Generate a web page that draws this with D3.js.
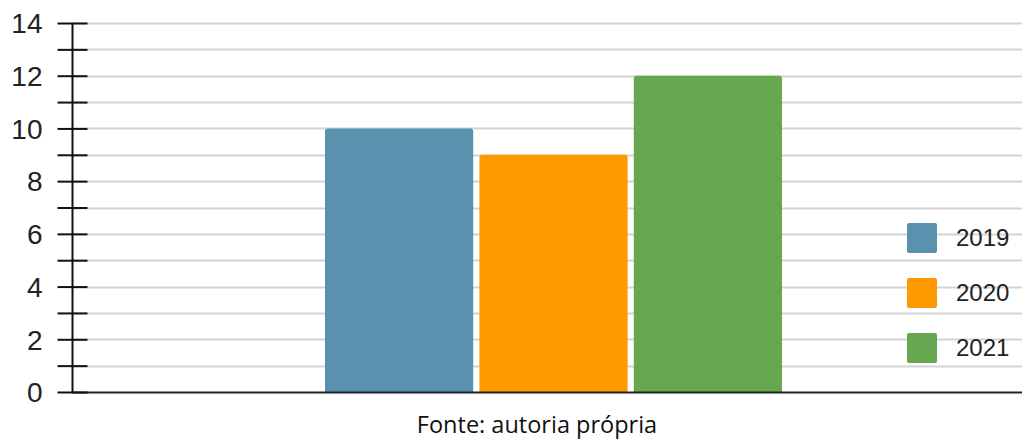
<!DOCTYPE html>
<html><head><meta charset="utf-8">
<script src="https://cdn.jsdelivr.net/npm/d3@7"></script>
<style>body{margin:0;background:#fff}</style>
</head><body>
<svg id="c" width="1025" height="439"></svg>
<script>
const series = ["2019", "2020", "2021"];
const values = [10, 9, 12];
const colors = ["#5a91ae", "#ff9900", "#67a74f"];
const yTicks = [0, 2, 4, 6, 8, 10, 12, 14];
const caption = "Fonte: autoria própria";

const svg = d3.select("#c");
const y = d3.scaleLinear().domain([0, 14]).range([392, 23]);
const x = d3.scaleBand().domain(series).range([325, 782]).paddingInner(0.04).paddingOuter(0);
const axisX = 72.5;

const minor = d3.range(0, 15);
svg.append("g").selectAll("line").data(minor.filter(d => d > 0)).join("line")
  .attr("x1", axisX).attr("x2", 1022)
  .attr("y1", d => Math.round(y(d)) + 0.5).attr("y2", d => Math.round(y(d)) + 0.5)
  .attr("stroke", "#d4d4d4").attr("stroke-width", 2);

svg.append("g").selectAll("path").data(series).join("path")
  .attr("fill", (d, i) => colors[i])
  .attr("d", (d, i) => {
    const x0 = x(d), w = x.bandwidth(), t = y(values[i]), b = y(0), r = 3;
    return `M${x0},${b}V${t + r}Q${x0},${t} ${x0 + r},${t}H${x0 + w - r}Q${x0 + w},${t} ${x0 + w},${t + r}V${b}Z`;
  });

svg.append("line").attr("x1", axisX).attr("x2", 1022)
  .attr("y1", Math.round(y(0)) + 0.5).attr("y2", Math.round(y(0)) + 0.5)
  .attr("stroke", "#222").attr("stroke-width", 2);

const ax = svg.append("g").attr("transform", `translate(${axisX},0)`)
  .call(d3.axisLeft(y).tickValues(minor).tickSize(0).tickFormat(d => yTicks.includes(d) ? d : ""));
ax.select(".domain").remove();
ax.selectAll(".tick text").attr("x", -30)
  .style("font-family", "'Liberation Sans', Arial, sans-serif")
  .style("font-size", "28px").attr("fill", "#222").attr("dy", "0.35em");
ax.selectAll(".tick").append("line").attr("x1", -15).attr("x2", 15)
  .attr("stroke", "#111").attr("stroke-width", 2);
svg.append("line").attr("x1", axisX).attr("x2", axisX).attr("y1", y(14)).attr("y2", y(0) + 1)
  .attr("stroke", "#111").attr("stroke-width", 2);

const lg = svg.append("g").selectAll("g").data(series).join("g")
  .attr("transform", (d, i) => `translate(907,${223 + i * 55})`);
lg.append("rect").attr("width", 30).attr("height", 30).attr("rx", 2).attr("fill", (d, i) => colors[i]);
lg.append("text").attr("x", 49).attr("y", 15).attr("dy", "0.35em")
  .style("font-family", "'Liberation Sans', Arial, sans-serif").style("font-size", "24px").attr("fill", "#222")
  .text(d => d);

svg.append("text").attr("x", 537).attr("y", 433).attr("text-anchor", "middle")
  .style("font-family", "'Open Sans', 'Noto Sans', sans-serif").style("font-size", "23.5px").attr("fill", "#111")
  .text(caption);
</script>
</body></html>
